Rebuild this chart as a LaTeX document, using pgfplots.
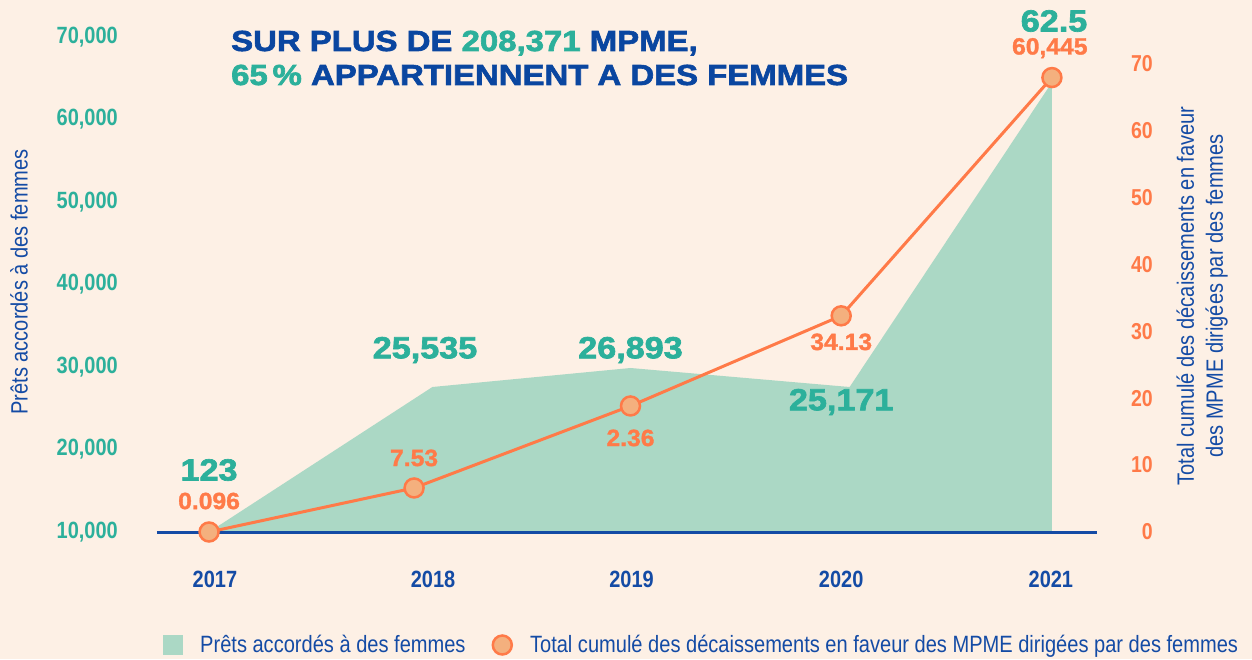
\documentclass[border=0pt]{standalone}
\usepackage{fontspec}
\setmainfont{Liberation Sans}
\newfontfamily\narrowfont{Liberation Sans}[FakeStretch=0.85]
\newfontfamily\blackfont{Liberation Sans}[FakeStretch=1.135, FakeBold=2.2]
\newfontfamily\blacklabel{Liberation Sans}[FakeStretch=1.12, FakeBold=2.2]
\newfontfamily\blackorange{Liberation Sans}[FakeStretch=1.05, FakeBold=1.4]
\usepackage{pgfplots}
\pgfplotsset{compat=1.18}
\definecolor{bgc}{RGB}{253,240,229}
\definecolor{tealc}{RGB}{44,176,155}
\definecolor{areac}{RGB}{171,216,197}
\definecolor{bluec}{RGB}{20,75,165}
\definecolor{titleblue}{RGB}{10,70,160}
\definecolor{orangec}{RGB}{255,122,72}
\definecolor{markc}{RGB}{244,176,126}
\begin{document}
\begin{tikzpicture}
\fill[bgc] (0,0) rectangle (1252pt,659pt);
\path[use as bounding box] (0,0) rectangle (1252pt,659pt);
\begin{axis}[
  at={(157pt,127pt)}, anchor=south west, scale only axis,
  width=940pt, height=495pt,
  xmin=2016.753, xmax=2021.214, ymin=10000, ymax=70000,
  axis x line*=bottom, axis y line*=left,
  x axis line style={draw=bluec, line width=3pt, -},
  y axis line style={draw=none},
  major tick length=0pt,
  xtick={2017.028,2018.063,2019.005,2020.0,2020.995},
  xticklabels={2017,2018,2019,2020,2021},
  xticklabel style={font=\narrowfont\bfseries\fontsize{23.5pt}{26pt}\selectfont, text=bluec, anchor=north, inner sep=0pt, yshift=-39pt},
  ytick={10000,20000,30000,40000,50000,60000,70000},
  scaled y ticks=false,
  yticklabel style={font=\narrowfont\bfseries\fontsize{23.5pt}{26pt}\selectfont, text=tealc, anchor=east, inner sep=0pt, xshift=-39pt},
  /pgf/number format/assume math mode=true,
  /pgf/number format/1000 sep={,},
  ylabel={Prêts accordés à des femmes},
  ylabel style={at={(axis description cs:-0.1468,0.505)}, anchor=center, font=\narrowfont\fontsize{23.6pt}{28pt}\selectfont, text=bluec},
  axis on top, clip=false,
  legend style={at={(axis description cs:0.0064,-0.2283)}, anchor=west, draw=none, fill=none, inner sep=0pt,
    font=\narrowfont\fontsize{23.6pt}{28pt}\selectfont, text=bluec,
    /tikz/every odd column/.append style={column sep=15pt},
    /tikz/every even column/.append style={column sep=24pt}},
  legend columns=2, legend cell align=left,
]
\addplot[fill=areac, draw=none,
  legend image code/.code={\fill[areac] (0pt,-10pt) rectangle (20pt,10pt);}]
  coordinates {(2017,10000) (2018.06,27576) (2019.0,29879) (2020.04,27576) (2021,64500) (2021,10000)} -- cycle;
\addlegendentry{Prêts accordés à des femmes}
\addlegendimage{legend image code/.code={\draw[orangec, fill=markc, line width=2.5pt] (10.5pt,0pt) circle (9.5pt);}}
\addlegendentry{Total cumulé des décaissements en faveur des MPME dirigées par des femmes}
\begin{scope}[every node/.style={font=\blacklabel\bfseries\fontsize{30.5pt}{33pt}\selectfont, text=tealc}]
\node at (axis cs:2017,17515) {123};
\node at (axis cs:2018.025,32061) {25,535};
\node at (axis cs:2019.0,32061) {26,893};
\node at (axis cs:2020.0,25758) {25,171};
\node at (axis cs:2021.01,71939) {62.5};
\end{scope}
\end{axis}
\begin{axis}[
  at={(157pt,127pt)}, anchor=south west, scale only axis,
  width=940pt, height=495pt,
  xmin=2016.753, xmax=2021.214, ymin=0, ymax=73.96,
  hide x axis, axis y line*=right, yticklabel pos=right,
  y axis line style={draw=none},
  major tick length=0pt,
  ytick={0,10,20,30,40,50,60,70},
  yticklabel style={font=\narrowfont\bfseries\fontsize{23pt}{26pt}\selectfont, text=orangec, anchor=east, inner sep=0pt, xshift=56pt},
  /pgf/number format/assume math mode=true,
  ylabel={Total cumulé des décaissements en faveur\\des MPME dirigées par des femmes},
  ylabel style={align=center, at={(axis description cs:1.1117,0.4768)}, anchor=center, font=\narrowfont\fontsize{23.6pt}{29pt}\selectfont, text=bluec},
  clip=false,
]
\addplot[orangec, line width=3pt, mark=*, mark size=9.5pt,
  mark options={draw=orangec, fill=markc, line width=2.5pt}]
  coordinates {(2017,0) (2017.973,6.58) (2019.0,18.83) (2020.0,32.3) (2021,67.9)};
\begin{scope}[every node/.style={font=\blackorange\bfseries\fontsize{23.5pt}{26pt}\selectfont, text=orangec}]
\node at (axis cs:2017,4.63) {0.096};
\node at (axis cs:2017.973,11.06) {7.53};
\node at (axis cs:2019.0,14.05) {2.36};
\node at (axis cs:2020.0,28.4) {34.13};
\node at (axis cs:2020.99,72.3) {60,445};
\end{scope}
\end{axis}
\node[anchor=base west, inner sep=0pt, font=\blackfont\bfseries\fontsize{29pt}{32pt}\selectfont, text=titleblue] at (231pt,608pt) {SUR PLUS DE \textcolor{tealc}{208,371} MPME,};
\node[anchor=base west, inner sep=0pt, font=\blackfont\bfseries\fontsize{29pt}{32pt}\selectfont, text=titleblue] at (231pt,574pt) {\textcolor{tealc}{65\,\%} APPARTIENNENT A DES FEMMES};
\end{tikzpicture}
\end{document}
